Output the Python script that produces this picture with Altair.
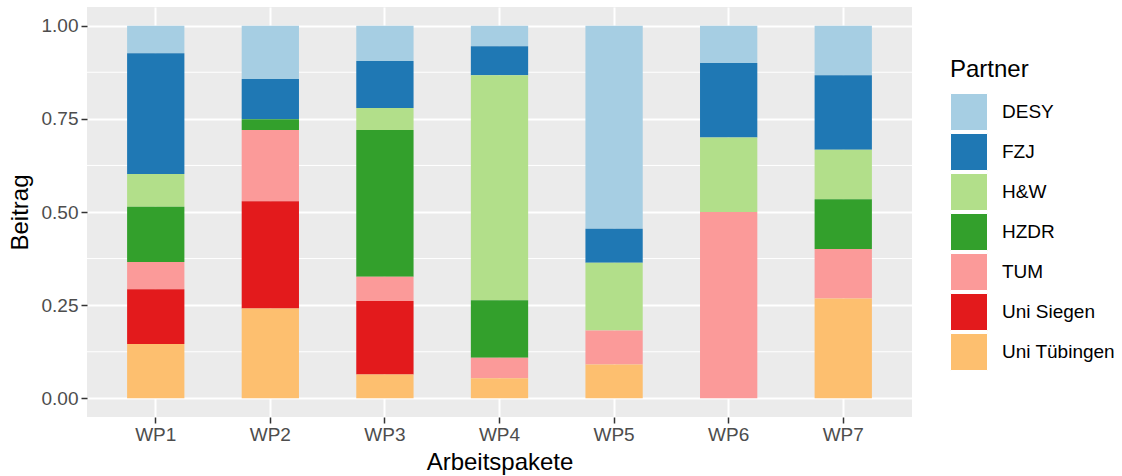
import altair as alt
import pandas as pd

wps = ["WP1", "WP2", "WP3", "WP4", "WP5", "WP6", "WP7"]
partners = ["DESY", "FZJ", "H&W", "HZDR", "TUM", "Uni Siegen", "Uni Tübingen"]
colors = ["#A6CEE3", "#1F78B4", "#B2DF8A", "#33A02C", "#FB9A99", "#E31A1C", "#FDBF6F"]

desy = [0.074, 0.143, 0.095, 0.055, 0.545, 0.100, 0.133]
fzj = [0.324, 0.108, 0.126, 0.078, 0.091, 0.200, 0.200]
hw = [0.088, 0.000, 0.059, 0.604, 0.182, 0.200, 0.133]
hzdr = [0.148, 0.029, 0.394, 0.154, 0.000, 0.000, 0.133]
tum = [0.073, 0.191, 0.065, 0.055, 0.091, 0.500, 0.133]
siegen = [0.147, 0.288, 0.197, 0.000, 0.000, 0.000, 0.000]
tuebingen = [0.146, 0.241, 0.064, 0.054, 0.091, 0.000, 0.268]

y_ticks = [0.0, 0.25, 0.5, 0.75, 1.0]
minor_ticks = [0.125, 0.375, 0.625, 0.875]

series = [desy, fzj, hw, hzdr, tum, siegen, tuebingen]
rows = []
for pi, (p, vals) in enumerate(zip(partners, series)):
    for wp, v in zip(wps, vals):
        if v > 0:
            rows.append({"WP": wp, "Partner": p, "Beitrag": v, "rank": len(partners) - pi})
df = pd.DataFrame(rows)

FONT = "Liberation Sans"

y_scale = alt.Scale(domain=[-0.05, 1.05], nice=False, zero=False)

y_axis = alt.Axis(
    title="Beitrag",
    values=y_ticks,
    format=".2f",
    domain=False,
    grid=True,
    gridColor="white",
    gridWidth=2,
    tickColor="#333333",
    tickWidth=1.5,
    tickSize=6,
    labelPadding=3,
    labelColor="#4D4D4D",
    labelFontSize=19,
    labelFont=FONT,
    titleFont=FONT,
    titleFontSize=24,
    titleFontWeight="normal",
    titleColor="black",
    titleAngle=270,
    titleX=-60,
    titleY=205,
    titleBaseline="alphabetic",
    titleAlign="center",
)

minor = alt.Chart(pd.DataFrame({"m": minor_ticks})).mark_rule(
    color="white", strokeWidth=1
).encode(y=alt.Y("m:Q", scale=y_scale, axis=y_axis))

bars = alt.Chart(df).mark_bar().encode(
    x=alt.X(
        "WP:N",
        sort=wps,
        scale=alt.Scale(paddingInner=0.5, paddingOuter=0.35),
        axis=alt.Axis(
            title="Arbeitspakete",
            labelAngle=0,
            bandPosition=0.5,
            domain=False,
            grid=True,
            gridColor="white",
            gridWidth=2,
            tickColor="#333333",
            tickWidth=1.5,
            tickSize=6,
            labelPadding=2,
            labelColor="#4D4D4D",
            labelFontSize=19,
            labelFont=FONT,
            titleFont=FONT,
            titleFontSize=24,
            titleFontWeight="normal",
            titleColor="black",
            titleX=412.5,
            titleY=52,
            titleBaseline="alphabetic",
            titleAlign="center",
        ),
    ),
    y=alt.Y("Beitrag:Q", stack="zero", scale=y_scale, axis=y_axis),
    color=alt.Color(
        "Partner:N",
        scale=alt.Scale(domain=partners, range=colors),
        legend=alt.Legend(
            title="Partner",
            orient="none",
            legendX=863,
            legendY=51,
            symbolType="square",
            symbolSize=1369,
            symbolStrokeColor="white",
            symbolStrokeWidth=1,
            symbolOpacity=1,
            rowPadding=-3.7,
            labelOffset=14,
            titlePadding=11,
            padding=0,
            labelFont=FONT,
            labelFontSize=19,
            labelColor="black",
            titleFont=FONT,
            titleFontSize=24,
            titleFontWeight="normal",
            titleColor="black",
        ),
    ),
    order=alt.Order("rank:Q", sort="ascending"),
)

chart = (
    alt.layer(minor, bars)
    .properties(
        width=825,
        height=410,
        autosize=alt.AutoSizeParams(type="none"),
        padding={"left": 87, "top": 7, "right": 210, "bottom": 59},
        background="white",
    )
    .configure_view(fill="#EBEBEB", stroke=None)
)

chart.save("out.html", embed_options={"renderer": "svg", "actions": False})
